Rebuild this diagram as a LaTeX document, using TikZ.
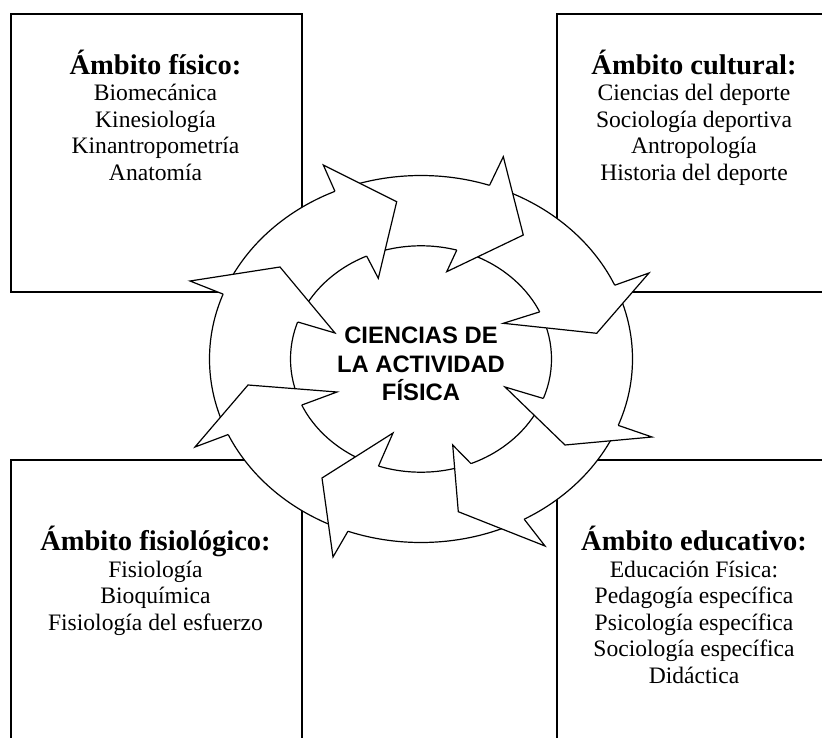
\documentclass[tikz,border=0pt]{standalone}
\usepackage{fontspec}
\setmainfont{Liberation Serif}
\newfontfamily\centrefont{Liberation Sans}

\newcommand{\ambtitle}[1]{{\fontsize{28.5}{26.5}\selectfont\bfseries #1}}
% punta de flecha: muesca ext., muesca int., barba ext., punta, barba int.
\newcommand{\cabeza}[5]{%
  \fill[white] (#1:211.5pt and 183.5pt) -- (#3) -- (#4) -- (#5) -- (#2:130.5pt and 113.2pt) -- cycle;
  \draw[flecha] (#1:211.5pt and 183.5pt) -- (#3) -- (#4) -- (#5) -- (#2:130.5pt and 113.2pt);}

\begin{document}
\begin{tikzpicture}[x=1pt, y=1pt,
    caja/.style={line width=1.8pt},
    flecha/.style={line width=1.2pt, line join=miter},
    ambito/.style={anchor=north, align=center, inner sep=0pt,
      font=\fontsize{23.6}{26.5}\selectfont},
    centro/.style={align=center, inner sep=0pt,
      font={\centrefont\fontsize{23.8}{28.2}\selectfont\bfseries}}]
  \useasboundingbox (0,0) rectangle (822,-738);

  % cajas
  \draw[caja] (11,-14) rectangle (302,-292);
  \draw[caja] (557,-14) rectangle (831,-292);
  \draw[caja] (11,-745) |- (302,-460) -- (302,-745);
  \draw[caja] (557,-745) |- (831,-460);

  \node[ambito] (fisico) at (155.5,-49.5)
    {\ambtitle{Ámbito físico:}\\Biomecánica\\Kinesiología\\Kinantropometría\\Anatomía};
  \node[ambito] (cultural) at (694,-49.5)
    {\ambtitle{Ámbito cultural:}\\Ciencias del deporte\\Sociología deportiva\\Antropología\\Historia del deporte};
  \node[ambito] (fisiologico) at (155.5,-526)
    {\ambtitle{Ámbito fisiológico:}\\Fisiología\\Bioquímica\\Fisiología del esfuerzo};
  \node[ambito] (educativo) at (694,-526)
    {\ambtitle{Ámbito educativo:}\\Educación Física:\\Pedagogía específica\\Psicología específica\\Sociología específica\\Didáctica};

  % corona de flechas
  \begin{scope}[shift={(421,-359)}]
    \filldraw[flecha, fill=white] (0,0) ellipse[x radius=211.5pt, y radius=183.5pt];
    \draw[flecha] (0,0) ellipse[x radius=130.5pt, y radius=113.2pt];
    \cabeza{71.1}{74.1}{82.3,202.3}{102.3,124}{25.7,87.3}
    \cabeza{23.7}{24.6}{228,86}{175.7,25.7}{82.3,35.7}
    \cabeza{-21.2}{-20.4}{231,-78}{144,-86}{84,-28}
    \cabeza{-60.8}{-67.5}{124,-187}{37.3,-152.7}{31.7,-86}
    \cabeza{-110.2}{-109}{-88,-198}{-99,-119}{-28,-74}
    \cabeza{204.3}{204}{-226,-88}{-173,-26}{-84,-33}
    \cabeza{159.3}{160.9}{-231,78}{-141,92}{-86,26}
    \cabeza{114}{114.6}{-97.7,194}{-24.3,157.3}{-42.7,80.7}
  \end{scope}

  \node[centro] (ciencias) at (421,-364) {CIENCIAS DE\\LA ACTIVIDAD\\FÍSICA};
\end{tikzpicture}
\end{document}
